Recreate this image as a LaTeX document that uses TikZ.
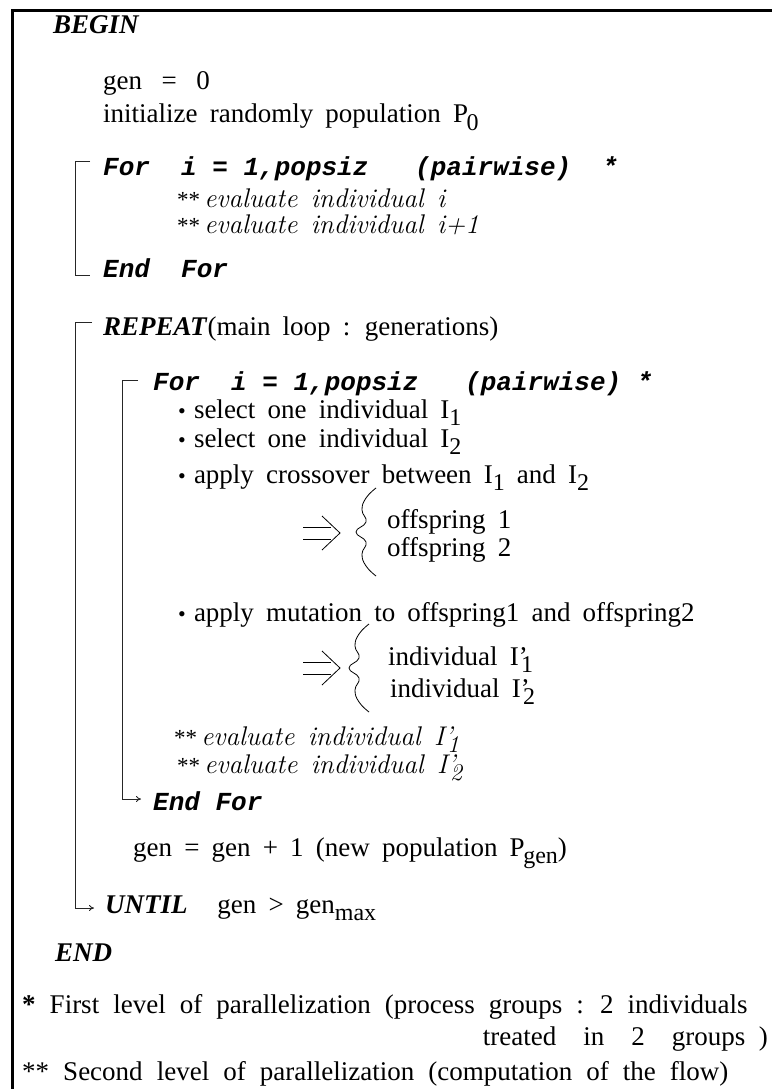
\documentclass[tikz,border=0pt]{standalone}
\usepackage{fontspec}
\setmainfont{Liberation Serif}[WordSpace=1.8]
\newfontfamily\courfont{Liberation Mono}
\usetikzlibrary{arrows.meta}
\newcommand\lo[1]{\raisebox{-0.27em}{\fontsize{24}{24}\selectfont #1}}
\newcommand\smb{{\fontsize{22}{22}\selectfont\textbullet}\hspace{0.3em}}
\newcommand\stars{{\fontsize{23}{23}\selectfont **}\hspace{0.15em}}
\newcommand\gap{\hspace{0.5em}}
\newcommand\wide{\hspace{0.72em}}
\newcommand\lmi[1]{{\fontfamily{lmr}\itshape #1}}
\begin{document}
\begin{tikzpicture}[x=1pt,y=-1pt,
 txt/.style={anchor=base west,inner sep=0pt,font=\fontsize{27}{32}\selectfont},
 kw/.style={anchor=base west,inner sep=0pt,font=\fontsize{27}{32}\selectfont\bfseries\itshape},
 cour/.style={anchor=base west,inner sep=0pt,font=\fontsize{26}{30}\selectfont\courfont\bfseries\itshape},
 brk/.style={line width=0.9pt,black!85},
 wav/.style={line width=0.8pt},
]
\useasboundingbox (0,0) rectangle (772,1089);
\fill[white] (0,0) rectangle (772,1089);
\draw[line width=3pt] (12,1089) -- (12,11) -- (772,11);

\node[kw] (begin) at (53,34) {BEGIN};
\node[txt] (gen0) at (103,90) {gen\wide=\wide0};
\node[txt] (init) at (103,123) {initialize randomly population P\kern-0.05em\lo{0}};

\node[cour] (for1) at (103,175) {For~~i~=~1,popsiz~~~(pairwise)~~*};
\node[txt] (ev1) at (177,207) {\stars\lmi{evaluate\gap individual\gap i}};
\node[txt] (ev2) at (177,233) {\stars\lmi{evaluate\gap individual\gap i+1}};
\node[cour] (endfor1) at (103,277) {End~~For};

\node[kw] (repeat) at (103,335) {REPEAT\textup{\mdseries(main loop : generations)}};
\node[cour] (for2) at (153,390) {For~~i~=~1,popsiz~~~(pairwise)~*};
\node[txt] (sel1) at (178,418) {\smb select one individual I\lo{1}};
\node[txt] (sel2) at (178,447) {\smb select one individual I\lo{2}};
\node[txt] (cross) at (178,483) {\smb apply crossover between I\lo{1} and I\lo{2}};

\draw[wav] (303,527) -- (331,527);
\draw[wav] (303,539) -- (331,539);
\draw[wav] (322,516) -- (340,533) -- (322,550);
\draw[wav,shift={(356,532)}] plot[smooth,tension=0.8] coordinates {(20,-44) (10,-34) (6,-22) (10,-10) (0,0) (10,10) (6,22) (10,34) (20,44)};
\node[txt] (off1) at (387,528) {offspring 1};
\node[txt] (off2) at (387,556) {offspring 2};

\node[txt] (mut) at (178,621) {\smb apply mutation to offspring1 and offspring2};
\draw[wav] (303,662) -- (331,662);
\draw[wav] (303,674) -- (331,674);
\draw[wav] (322,651) -- (340,668) -- (322,685);
\draw[wav,shift={(349,668)}] plot[smooth,tension=0.8] coordinates {(20,-44) (10,-34) (6,-22) (10,-10) (0,0) (10,10) (6,22) (10,34) (20,44)};
\node[txt] (ind1) at (388,665) {individual I'\kern-0.25em\lo{1}};
\node[txt] (ind2) at (390,697) {individual I'\kern-0.25em\lo{2}};

\node[txt] (ev3) at (174,745) {\stars\lmi{evaluate\gap individual\gap I'\kern-0.2em\lo{1}}};
\node[txt] (ev4) at (177,773) {\stars\lmi{evaluate\gap individual\gap I'\kern-0.2em\lo{2}}};
\node[cour] (endfor2) at (153,810) {End~For};
\node[txt] (gen1) at (133,856) {gen = gen + 1 (new population P\kern-0.05em\lo{gen})};
\node[kw] (until) at (105,913) {UNTIL\textup{\mdseries\hspace{1.1em}gen > gen\lo{max}}};
\node[kw] (end) at (55,961) {END};

\node[txt] (fn1) at (22,1013) {\spaceskip=0.52em\textbf{*} First level of parallelization (process groups : 2 individuals};
\node[txt,anchor=base east] (fn1b) at (768,1045) {treated\hspace{1em}in\hspace{1em}2\hspace{1em}groups\hspace{0.5em})};
\node[txt] (fn2) at (22,1080) {\spaceskip=0.52em** Second level of parallelization (computation of the flow)};

% brackets
\coordinate (b1te) at (90,161);
\coordinate (b1t) at (75,161);
\coordinate (b1b) at (75,275);
\coordinate (b1be) at (90,275);
\draw[brk] (b1te) -- (b1t) -- (b1b) -- (b1be);

\coordinate (r1e) at (92,322);
\coordinate (r1) at (75,322);
\coordinate (r2) at (75,908);
\coordinate (r2e) at (94,908);
\draw[brk,-{To[length=5pt,width=6pt]}] (r1e) -- (r1) -- (r2) -- (r2e);

\coordinate (f2te) at (138,380);
\coordinate (f2t) at (122,380);
\coordinate (f2b) at (122,799);
\coordinate (f2be) at (141,799);
\draw[brk,-{To[length=5pt,width=6pt]}] (f2te) -- (f2t) -- (f2b) -- (f2be);
\end{tikzpicture}
\end{document}
